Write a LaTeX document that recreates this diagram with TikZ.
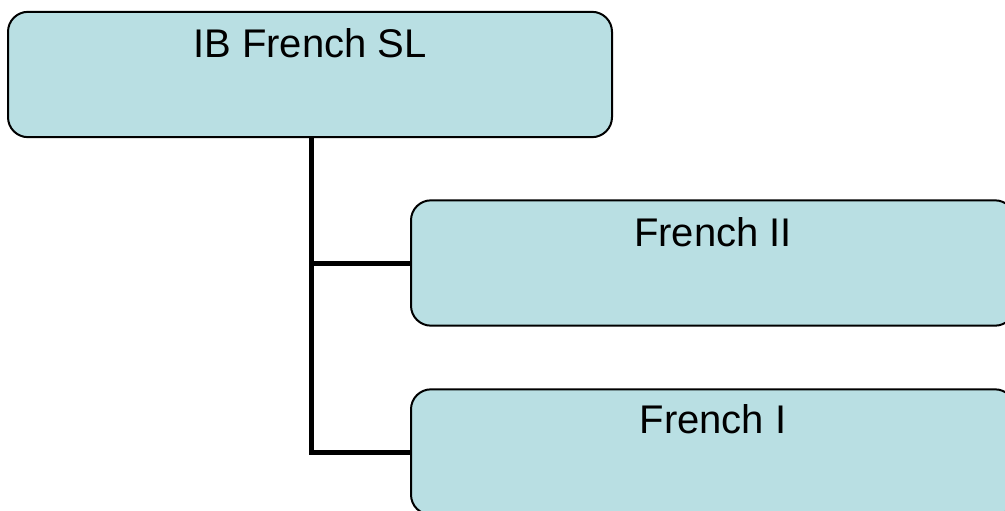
\documentclass[tikz,border=0pt]{standalone}
\usepackage{fontspec}
\setmainfont{Liberation Sans}
\definecolor{boxfill}{RGB}{185,223,227}
\begin{document}
\begin{tikzpicture}[x=0.75pt,y=-0.75pt,
  box/.style={draw=black, line width=1.5pt, fill=boxfill, rounded corners=15pt,
    minimum width=453pt, minimum height=94pt, inner sep=0pt, outer sep=0pt},
  title/.style={font=\fontsize{30}{36}\selectfont, anchor=base},
  conn/.style={line width=3.75pt}]
\useasboundingbox (0,0) rectangle (1005,510);
\clip (0,0) rectangle (1005,510);
\node[box] (top) at (310,74.5) {};
\node[box] (f2) at (713,263) {};
\node[box] (f1) at (713,452) {};
\node[title] (ttop) at ([yshift=-34pt]top.north) {IB French SL};
\node[title] (tf2) at ([yshift=-34.5pt]f2.north) {French II};
\node[title] (tf1) at ([yshift=-33pt]f1.north) {French I};
\draw[conn] ([xshift=1pt]top.south) |- (f2.west);
\draw[conn] ([xshift=1pt]top.south) |- (f1.west);
\end{tikzpicture}
\end{document}
